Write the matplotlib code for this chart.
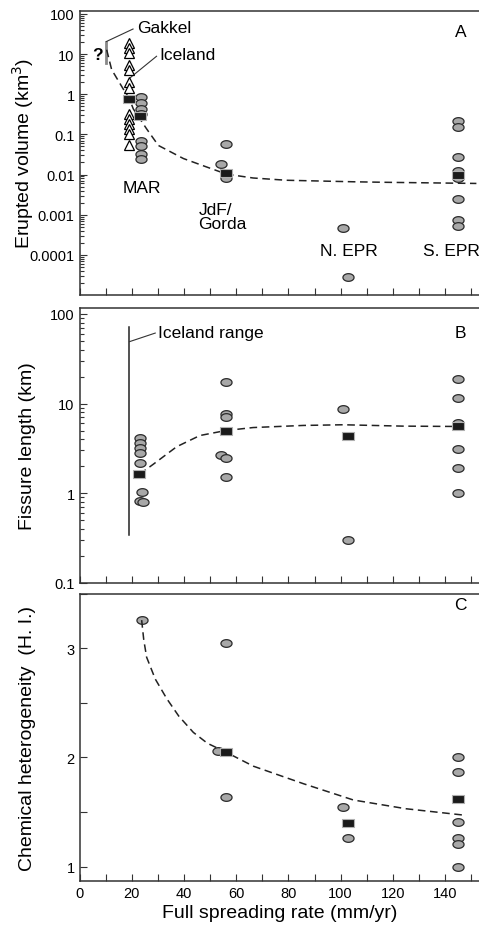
import numpy as np
import matplotlib
matplotlib.use("Agg")
import matplotlib.pyplot as plt
from matplotlib.path import Path
from matplotlib.ticker import MultipleLocator, LogLocator, NullFormatter, FixedLocator

plt.rcParams['font.family'] = ['Liberation Sans', 'DejaVu Sans']

# ---------------- data ----------------
# Panel A: erupted volume (km3)
iceland_rate = [19] * 13
iceland_vol = [18.9, 14.2, 10.7, 5.2, 3.9, 2.0, 1.46, 0.32, 0.24, 0.18, 0.137, 0.103, 0.053]

a_rate = [23.5, 23.5, 23.5, 23.5, 23.5, 23.5, 23.5, 23.5,
          56, 54, 56, 56,
          101, 103,
          145, 145, 145, 145, 145, 145, 145, 145]
a_vol = [0.85, 0.62, 0.42, 0.32, 0.07, 0.05, 0.033, 0.024,
         0.056, 0.0185, 0.011, 0.008,
         0.00048, 0.000028,
         0.22, 0.155, 0.027, 0.0125, 0.008, 0.0025, 0.00075, 0.00053]
a_mean_rate = [19, 23.2, 56, 145]
a_mean_vol = [0.75, 0.28, 0.0108, 0.0096]
a_curve_rate = [10.4, 12.3, 16.8, 19, 20.6, 25.7, 30.2, 39.8, 48.7, 56.4, 66.5, 79.3, 105, 117.6, 152]
a_curve_vol = [12.8, 4.1, 1.33, 0.8, 0.43, 0.137, 0.053, 0.025, 0.0154, 0.0102, 0.0082, 0.0072, 0.0066, 0.0064, 0.006]

# Panel B: fissure length (km)
b_rate = [23.2, 23.2, 23.2, 23.2, 23.2, 23.8, 23.0, 24.5,
          56, 56, 56, 54, 56, 56,
          101, 102.7,
          145, 145, 145, 145, 145, 145]
b_len = [4.1, 3.6, 3.2, 2.8, 2.19, 1.02, 0.83, 0.8,
         17.3, 7.6, 7.1, 2.7, 2.5, 1.52,
         8.7, 0.30,
         18.8, 11.6, 6.1, 3.15, 1.93, 1.0]
b_mean_rate = [22.7, 56, 102.7, 145]
b_mean_len = [1.62, 5.0, 4.4, 5.55]
b_curve_rate = [23, 28.2, 37.2, 46.1, 56, 66.5, 85.7, 101, 123.9, 145]
b_curve_len = [1.63, 2.1, 3.3, 4.4, 5.0, 5.4, 5.7, 5.8, 5.6, 5.55]
iceland_range = [0.34, 71]

# Panel C: chemical heterogeneity (H.I.)
c_rate = [23.8, 56, 53.2, 56, 100.8, 102.7, 145, 145, 145, 145, 145, 145]
c_hi = [3.26, 3.05, 2.06, 1.64, 1.55, 1.26, 2.0, 1.87, 1.41, 1.26, 1.21, 1.0]
c_mean_rate = [56, 102.7, 145]
c_mean_hi = [2.05, 1.40, 1.62]
c_curve_rate = [23.8, 24.6, 25.7, 29, 33.4, 38, 43.6, 49, 56, 66.6, 85.7, 104.9, 125, 147.7]
c_curve_hi = [3.26, 3.08, 2.92, 2.72, 2.54, 2.38, 2.23, 2.13, 2.05, 1.92, 1.76, 1.61, 1.53, 1.47]

# ---------------- styles ----------------
t = np.linspace(0, 2 * np.pi, 60)
ellipse = Path(np.column_stack([1.45 * np.cos(t), np.sin(t)]))
rect = Path([(-1.4, -1), (1.4, -1), (1.4, 1), (-1.4, 1), (-1.4, -1)],
            [Path.MOVETO, Path.LINETO, Path.LINETO, Path.LINETO, Path.CLOSEPOLY])

circ_kw = dict(ls='none', marker=ellipse, ms=8, mfc='#a8a8a8', mec='#2a2a2a', mew=0.9)
sq_kw = dict(ls='none', marker=rect, ms=8, mfc='#1a1a1a', mec='#b0b0b0', mew=0.8, zorder=5)
curve_kw = dict(color='#222222', ls=(0, (5, 3)), lw=1.1, zorder=4)
txt = 12.5

fig = plt.figure(figsize=(4.79, 9.28), dpi=100)
axA = fig.add_axes([0.166, 0.681, 0.834, 0.3064])
axB = fig.add_axes([0.166, 0.3707, 0.834, 0.2963])
axC = fig.add_axes([0.166, 0.0499, 0.834, 0.309])

for ax in (axA, axB, axC):
    ax.set_xlim(0, 153)
    ax.spines['right'].set_visible(False)
    for s in ('left', 'bottom', 'top'):
        ax.spines[s].set_color('#333333')
        ax.spines[s].set_linewidth(1.1)
    ax.xaxis.set_major_locator(MultipleLocator(20))
    ax.xaxis.set_minor_locator(MultipleLocator(10))
    ax.tick_params(which='both', direction='in', length=5, width=0.8, color='#333333',
                   labelsize=10.5, top=False, right=False)
    ax.tick_params(axis='x', which='minor', length=5)
    ax.yaxis.set_label_coords(-0.11, 0.5)

axA.tick_params(axis='x', labelbottom=False)
axB.tick_params(axis='x', labelbottom=False)

# ---- panel A ----
axA.set_yscale('log')
axA.set_ylim(1e-5, 120)
axA.yaxis.set_major_locator(FixedLocator([1e-4, 1e-3, 1e-2, 1e-1, 1, 10, 100]))
axA.set_yticklabels(['0.0001', '0.001', '0.01', '0.1', '1', '10', '100'])
axA.yaxis.set_minor_locator(LogLocator(base=10, subs=np.arange(2, 10), numticks=20))
axA.yaxis.set_minor_formatter(NullFormatter())
axA.tick_params(axis='y', which='minor', length=3)
axA.plot(a_curve_rate, a_curve_vol, **curve_kw)
axA.plot(iceland_rate, iceland_vol, ls='none', marker='^', ms=7, mfc='white', mec='black', mew=0.9, zorder=3)
axA.plot(a_rate, a_vol, **circ_kw)
axA.plot(a_mean_rate, a_mean_vol, **sq_kw)
axA.plot([10, 10], [6, 20.5], color='#888888', lw=2)
axA.plot([10.3, 20.5], [20.5, 42], color='#333333', lw=0.8)
axA.text(22, 45, 'Gakkel', fontsize=txt, va='center')
axA.text(7, 9.7, '?', fontsize=txt, fontweight='bold', ha='center', va='center')
axA.plot([19.5, 29.5], [2.6, 8.8], color='#333333', lw=0.8)
axA.text(30.5, 9.5, 'Iceland', fontsize=txt, va='center')
axA.text(16.5, 0.0048, 'MAR', fontsize=txt, va='center')
axA.text(45.5, 0.0009, 'JdF/\nGorda', fontsize=txt, va='center', linespacing=0.95)
axA.text(92, 0.000125, 'N. EPR', fontsize=txt, va='center')
axA.text(131.5, 0.000125, 'S. EPR', fontsize=txt, va='center')
axA.text(146, 36, 'A', fontsize=txt, ha='center', va='center')
axA.set_ylabel('Erupted volume (km$^3$)', fontsize=14)

# ---- panel B ----
axB.set_yscale('log')
axB.set_ylim(0.1, 116)
axB.yaxis.set_major_locator(FixedLocator([0.1, 1, 10, 100]))
axB.set_yticklabels(['0.1', '1', '10', '100'])
axB.yaxis.set_minor_locator(LogLocator(base=10, subs=np.arange(2, 10), numticks=20))
axB.yaxis.set_minor_formatter(NullFormatter())
axB.tick_params(axis='y', which='minor', length=3)
axB.plot([19, 19], iceland_range, color='#222222', lw=1.1)
axB.plot([19.2, 29], [49, 61], color='#333333', lw=0.8)
axB.text(30, 62, 'Iceland range', fontsize=txt, va='center')
axB.plot(b_curve_rate, b_curve_len, **curve_kw)
axB.plot(b_rate, b_len, **circ_kw)
axB.plot(b_mean_rate, b_mean_len, **sq_kw)
axB.text(146, 62, 'B', fontsize=txt, ha='center', va='center')
axB.set_ylabel('Fissure length (km)', fontsize=14)

# ---- panel C ----
axC.set_ylim(0.87, 3.5)
axC.yaxis.set_major_locator(MultipleLocator(1))
axC.yaxis.set_minor_locator(MultipleLocator(0.5))
axC.plot(c_curve_rate, c_curve_hi, **curve_kw)
axC.plot(c_rate, c_hi, **circ_kw)
axC.plot(c_mean_rate, c_mean_hi, **sq_kw)
axC.text(146, 3.4, 'C', fontsize=txt, ha='center', va='center')
axC.set_ylabel('Chemical heterogeneity  (H. I.)', fontsize=14)
axC.set_xlabel('Full spreading rate (mm/yr)', fontsize=14, labelpad=3)

fig.savefig('out.png', dpi=100)
